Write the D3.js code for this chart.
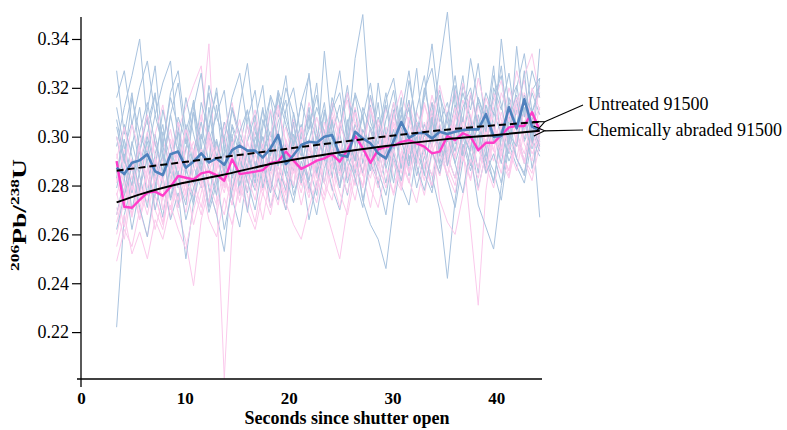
<!DOCTYPE html>
<html>
<head>
<meta charset="utf-8">
<script src="https://cdn.jsdelivr.net/npm/d3@7/dist/d3.min.js"></script>
<style>
  html, body { margin: 0; padding: 0; background: #ffffff; }
  svg { display: block; font-family: "Liberation Serif", "Times New Roman", serif; }
</style>
</head>
<body>
<svg id="chart" width="787" height="430"></svg>
<script>
// Acquisition times (s since shutter open)
const times = [3.43, 4.17, 4.91, 5.65, 6.39, 7.14, 7.88, 8.62, 9.36, 10.10,
  10.84, 11.58, 12.32, 13.06, 13.80, 14.55, 15.29, 16.03, 16.77, 17.51,
  18.25, 18.99, 19.73, 20.47, 21.21, 21.96, 22.70, 23.44, 24.18, 24.92,
  25.66, 26.40, 27.14, 27.88, 28.62, 29.37, 30.11, 30.85, 31.59, 32.33,
  33.07, 33.81, 34.55, 35.29, 36.03, 36.78, 37.52, 38.26, 39.00, 39.74,
  40.48, 41.22, 41.96, 42.70, 43.44, 44.18];

// Mean 206Pb/238U of untreated 91500 analyses
const untreatedMean = [0.2873, 0.2847, 0.2893, 0.2903, 0.2928, 0.2858, 0.2843, 0.2928,
  0.2939, 0.2873, 0.2898, 0.2932, 0.2895, 0.2911, 0.2885, 0.2945, 0.2963, 0.2943,
  0.2943, 0.2915, 0.2952, 0.3007, 0.2888, 0.2925, 0.2966, 0.2979, 0.2975, 0.3000,
  0.3007, 0.2925, 0.2918, 0.3020, 0.2993, 0.2973, 0.2932, 0.2911, 0.2982, 0.3060,
  0.2995, 0.3014, 0.3016, 0.2993, 0.3020, 0.3011, 0.3020, 0.3027, 0.3030, 0.3030,
  0.3092, 0.3000, 0.3003, 0.3120, 0.3034, 0.3153, 0.3041, 0.3025];

// Mean 206Pb/238U of chemically abraded 91500 analyses
const abradedMean = [0.2900, 0.2713, 0.2709, 0.2741, 0.2771, 0.2775, 0.2758, 0.2795,
  0.2839, 0.2832, 0.2825, 0.2850, 0.2857, 0.2843, 0.2820, 0.2907, 0.2847, 0.2852,
  0.2857, 0.2863, 0.2893, 0.2898, 0.2939, 0.2902, 0.2868, 0.2884, 0.2902, 0.2911,
  0.2928, 0.2898, 0.2945, 0.3003, 0.2952, 0.2893, 0.2948, 0.2959, 0.2963, 0.2979,
  0.2986, 0.2973, 0.2959, 0.2932, 0.2939, 0.3003, 0.2986, 0.3014, 0.3000, 0.2945,
  0.2975, 0.2975, 0.3007, 0.3038, 0.3044, 0.3044, 0.3100, 0.3025];

// Fitted trends
const untreatedFitTimes = [3.43, 13.6, 24.2, 34.8, 44.18];
const untreatedFit = [0.2861, 0.2916, 0.2974, 0.3027, 0.3061];
const abradedFitTimes = [3.43, 6.0, 9.2, 13.6, 18.5, 24.0, 29.0, 35.0, 40.0, 44.18];
const abradedFit = [0.2731, 0.2768, 0.2804, 0.2843, 0.2890, 0.2930, 0.2960, 0.2989, 0.3007, 0.3024];

// Individual untreated analyses
const untreatedRuns = [
  [0.222,0.268,0.281,0.296,0.276,0.301,0.284,0.293,0.271,0.305,0.288,0.279,0.312,0.290,0.283,0.301,0.276,0.298,0.309,0.285,0.294,0.318,0.287,0.279,0.303,0.296,0.284,0.311,0.299,0.290,0.307,0.281,0.295,0.313,0.288,0.301,0.292,0.316,0.284,0.305,0.297,0.310,0.289,0.302,0.318,0.293,0.306,0.285,0.311,0.300,0.294,0.316,0.303,0.289,0.308,0.298],
  [0.296,0.312,0.325,0.340,0.305,0.318,0.290,0.309,0.322,0.297,0.315,0.286,0.303,0.320,0.294,0.311,0.299,0.284,0.307,0.321,0.292,0.306,0.315,0.288,0.301,0.326,0.295,0.310,0.283,0.304,0.318,0.297,0.309,0.291,0.322,0.300,0.314,0.287,0.305,0.328,0.296,0.311,0.319,0.293,0.308,0.325,0.299,0.316,0.305,0.329,0.294,0.313,0.321,0.302,0.318,0.309],
  [0.327,0.301,0.318,0.293,0.311,0.329,0.296,0.316,0.304,0.285,0.312,0.326,0.298,0.309,0.319,0.291,0.313,0.330,0.302,0.294,0.317,0.308,0.325,0.297,0.314,0.303,0.322,0.290,0.311,0.318,0.299,0.332,0.350,0.306,0.297,0.315,0.324,0.301,0.312,0.289,0.319,0.328,0.306,0.314,0.297,0.321,0.311,0.330,0.303,0.316,0.325,0.299,0.320,0.334,0.310,0.318],
  [0.268,0.283,0.262,0.279,0.291,0.270,0.284,0.266,0.277,0.250,0.273,0.288,0.269,0.281,0.294,0.275,0.263,0.286,0.278,0.292,0.271,0.283,0.297,0.276,0.288,0.266,0.281,0.293,0.279,0.270,0.287,0.296,0.274,0.289,0.282,0.268,0.291,0.280,0.272,0.294,0.285,0.277,0.298,0.283,0.271,0.290,0.301,0.279,0.293,0.286,0.274,0.297,0.288,0.281,0.299,0.292],
  [0.285,0.299,0.277,0.294,0.308,0.283,0.297,0.275,0.290,0.303,0.281,0.296,0.279,0.268,0.253,0.284,0.298,0.287,0.306,0.279,0.293,0.301,0.284,0.310,0.295,0.282,0.300,0.291,0.307,0.286,0.298,0.311,0.289,0.304,0.295,0.281,0.299,0.312,0.290,0.303,0.294,0.308,0.287,0.299,0.313,0.292,0.305,0.296,0.287,0.310,0.301,0.293,0.315,0.298,0.306,0.267],
  [0.300,0.283,0.296,0.312,0.288,0.275,0.302,0.291,0.279,0.295,0.310,0.285,0.273,0.298,0.286,0.304,0.292,0.277,0.300,0.289,0.311,0.283,0.270,0.296,0.305,0.288,0.276,0.299,0.287,0.302,0.281,0.293,0.274,0.264,0.258,0.246,0.272,0.290,0.301,0.284,0.296,0.279,0.305,0.292,0.283,0.300,0.288,0.309,0.295,0.281,0.303,0.290,0.298,0.312,0.287,0.301],
  [0.312,0.295,0.306,0.288,0.301,0.317,0.293,0.285,0.308,0.298,0.289,0.314,0.302,0.292,0.281,0.305,0.296,0.311,0.287,0.300,0.293,0.316,0.305,0.294,0.283,0.309,0.299,0.314,0.290,0.303,0.321,0.296,0.308,0.289,0.301,0.318,0.295,0.306,0.311,0.297,0.320,0.305,0.329,0.351,0.313,0.299,0.317,0.306,0.292,0.320,0.311,0.326,0.303,0.315,0.298,0.324],
  [0.279,0.293,0.270,0.286,0.298,0.281,0.267,0.290,0.302,0.284,0.272,0.295,0.287,0.276,0.299,0.283,0.291,0.269,0.288,0.300,0.282,0.274,0.293,0.286,0.297,0.278,0.290,0.281,0.302,0.289,0.276,0.295,0.285,0.298,0.280,0.291,0.303,0.287,0.296,0.279,0.292,0.284,0.270,0.242,0.274,0.297,0.286,0.301,0.290,0.282,0.299,0.308,0.291,0.285,0.303,0.294],
  [0.304,0.289,0.316,0.301,0.293,0.309,0.322,0.331,0.297,0.285,0.310,0.299,0.318,0.291,0.306,0.296,0.283,0.307,0.319,0.294,0.302,0.288,0.311,0.320,0.299,0.308,0.292,0.335,0.301,0.313,0.290,0.305,0.296,0.317,0.302,0.293,0.311,0.297,0.323,0.306,0.300,0.314,0.292,0.308,0.325,0.301,0.294,0.316,0.307,0.298,0.340,0.312,0.304,0.327,0.295,0.336],
  [0.290,0.276,0.298,0.284,0.271,0.293,0.305,0.282,0.296,0.288,0.274,0.301,0.290,0.313,0.286,0.299,0.280,0.294,0.283,0.307,0.296,0.288,0.278,0.301,0.292,0.312,0.285,0.297,0.306,0.289,0.300,0.285,0.303,0.294,0.314,0.287,0.298,0.309,0.291,0.300,0.284,0.306,0.295,0.310,0.289,0.301,0.293,0.272,0.263,0.254,0.280,0.298,0.311,0.305,0.319,0.324],
  [0.283,0.305,0.292,0.278,0.300,0.287,0.311,0.296,0.283,0.272,0.294,0.306,0.289,0.299,0.285,0.312,0.301,0.293,0.281,0.304,0.316,0.297,0.289,0.306,0.281,0.298,0.312,0.302,0.292,0.279,0.305,0.317,0.299,0.286,0.308,0.297,0.281,0.303,0.315,0.293,0.305,0.296,0.312,0.288,0.302,0.318,0.307,0.294,0.313,0.301,0.289,0.307,0.317,0.299,0.311,0.303],
  [0.316,0.327,0.305,0.320,0.331,0.309,0.296,0.318,0.327,0.302,0.314,0.295,0.321,0.308,0.299,0.316,0.326,0.304,0.293,0.311,0.300,0.319,0.308,0.296,0.314,0.325,0.302,0.291,0.316,0.305,0.297,0.318,0.308,0.322,0.300,0.313,0.294,0.309,0.327,0.302,0.316,0.338,0.310,0.298,0.321,0.306,0.332,0.314,0.302,0.325,0.313,0.297,0.337,0.308,0.327,0.316],
  [0.262,0.276,0.288,0.271,0.259,0.280,0.293,0.274,0.286,0.266,0.279,0.290,0.271,0.284,0.262,0.278,0.291,0.282,0.270,0.289,0.277,0.296,0.284,0.273,0.290,0.281,0.268,0.287,0.298,0.279,0.292,0.283,0.271,0.295,0.286,0.276,0.293,0.282,0.299,0.288,0.278,0.294,0.285,0.300,0.289,0.277,0.296,0.304,0.285,0.293,0.281,0.302,0.291,0.284,0.305,0.296],
  [0.307,0.291,0.280,0.302,0.314,0.297,0.286,0.309,0.293,0.316,0.301,0.289,0.305,0.318,0.296,0.284,0.302,0.311,0.295,0.312,0.286,0.301,0.320,0.309,0.294,0.303,0.317,0.296,0.311,0.327,0.301,0.290,0.312,0.303,0.290,0.307,0.319,0.298,0.288,0.311,0.325,0.299,0.317,0.306,0.294,0.312,0.320,0.303,0.318,0.309,0.329,0.301,0.296,0.317,0.310,0.321]
];

// Individual chemically abraded analyses
const abradedRuns = [
  [0.271,0.258,0.279,0.266,0.284,0.270,0.262,0.281,0.293,0.276,0.288,0.305,0.338,0.275,0.201,0.262,0.283,0.271,0.290,0.278,0.296,0.284,0.273,0.292,0.281,0.299,0.287,0.276,0.295,0.285,0.301,0.290,0.279,0.297,0.288,0.304,0.293,0.282,0.299,0.290,0.306,0.295,0.284,0.301,0.292,0.308,0.297,0.287,0.303,0.294,0.310,0.299,0.291,0.306,0.298,0.312],
  [0.249,0.262,0.255,0.270,0.259,0.276,0.264,0.281,0.269,0.257,0.239,0.266,0.279,0.268,0.284,0.272,0.288,0.276,0.265,0.283,0.292,0.279,0.270,0.287,0.296,0.281,0.273,0.290,0.278,0.295,0.285,0.274,0.291,0.283,0.298,0.287,0.277,0.294,0.285,0.300,0.289,0.279,0.296,0.288,0.303,0.292,0.282,0.299,0.290,0.305,0.294,0.286,0.301,0.293,0.307,0.297],
  [0.283,0.270,0.289,0.277,0.294,0.282,0.299,0.287,0.303,0.312,0.321,0.329,0.296,0.281,0.293,0.279,0.297,0.286,0.302,0.290,0.279,0.298,0.287,0.305,0.293,0.282,0.301,0.291,0.308,0.296,0.285,0.303,0.294,0.311,0.300,0.289,0.306,0.297,0.314,0.302,0.292,0.309,0.299,0.289,0.305,0.296,0.263,0.231,0.278,0.301,0.293,0.310,0.300,0.316,0.306,0.298],
  [0.276,0.288,0.268,0.281,0.273,0.290,0.279,0.267,0.285,0.296,0.282,0.271,0.289,0.298,0.284,0.275,0.292,0.281,0.297,0.286,0.277,0.294,0.304,0.289,0.280,0.297,0.287,0.306,0.293,0.284,0.300,0.312,0.296,0.287,0.305,0.294,0.310,0.299,0.289,0.306,0.297,0.314,0.302,0.293,0.309,0.300,0.317,0.305,0.296,0.312,0.303,0.320,0.309,0.325,0.334,0.316],
  [0.260,0.274,0.284,0.266,0.278,0.262,0.275,0.287,0.271,0.281,0.264,0.277,0.290,0.276,0.268,0.285,0.273,0.289,0.280,0.266,0.284,0.293,0.277,0.288,0.272,0.286,0.297,0.281,0.274,0.291,0.283,0.296,0.285,0.271,0.289,0.300,0.284,0.278,0.295,0.287,0.276,0.293,0.303,0.288,0.280,0.297,0.289,0.278,0.294,0.304,0.290,0.283,0.298,0.291,0.285,0.302],
  [0.293,0.280,0.267,0.285,0.296,0.279,0.291,0.303,0.286,0.274,0.292,0.281,0.299,0.287,0.306,0.293,0.282,0.300,0.311,0.294,0.285,0.302,0.291,0.280,0.298,0.309,0.292,0.301,0.288,0.305,0.315,0.297,0.286,0.303,0.293,0.312,0.300,0.291,0.308,0.297,0.314,0.302,0.292,0.310,0.319,0.303,0.295,0.313,0.301,0.318,0.307,0.296,0.314,0.323,0.305,0.312],
  [0.255,0.268,0.252,0.261,0.250,0.266,0.258,0.272,0.262,0.254,0.270,0.281,0.266,0.259,0.275,0.264,0.280,0.270,0.262,0.277,0.268,0.285,0.273,0.264,0.258,0.271,0.282,0.274,0.288,0.277,0.268,0.284,0.293,0.279,0.271,0.287,0.276,0.291,0.282,0.273,0.289,0.280,0.295,0.285,0.277,0.292,0.283,0.298,0.288,0.279,0.294,0.286,0.301,0.290,0.282,0.297],
  [0.281,0.295,0.278,0.290,0.302,0.285,0.274,0.293,0.306,0.289,0.298,0.284,0.272,0.291,0.280,0.296,0.307,0.290,0.279,0.297,0.286,0.311,0.298,0.287,0.303,0.292,0.283,0.300,0.314,0.299,0.289,0.306,0.297,0.316,0.302,0.292,0.309,0.295,0.286,0.304,0.296,0.311,0.301,0.290,0.307,0.322,0.308,0.298,0.316,0.306,0.295,0.312,0.303,0.318,0.309,0.300],
  [0.268,0.279,0.291,0.274,0.286,0.298,0.281,0.270,0.289,0.277,0.294,0.283,0.273,0.290,0.301,0.285,0.276,0.294,0.284,0.296,0.281,0.272,0.290,0.300,0.286,0.296,0.278,0.293,0.283,0.271,0.289,0.280,0.297,0.288,0.279,0.293,0.305,0.290,0.281,0.298,0.287,0.302,0.293,0.284,0.299,0.290,0.307,0.296,0.285,0.301,0.292,0.308,0.298,0.289,0.304,0.295],
  [0.300,0.287,0.305,0.294,0.283,0.301,0.313,0.296,0.288,0.304,0.292,0.309,0.298,0.286,0.303,0.314,0.299,0.290,0.306,0.295,0.311,0.301,0.289,0.307,0.297,0.314,0.303,0.292,0.310,0.300,0.318,0.306,0.295,0.312,0.302,0.291,0.308,0.319,0.305,0.296,0.313,0.303,0.321,0.308,0.298,0.315,0.305,0.324,0.311,0.300,0.318,0.309,0.327,0.314,0.304,0.320],
  [0.265,0.277,0.289,0.279,0.268,0.284,0.275,0.291,0.280,0.269,0.286,0.295,0.281,0.272,0.288,0.278,0.293,0.284,0.274,0.291,0.299,0.285,0.276,0.294,0.288,0.277,0.292,0.303,0.290,0.281,0.297,0.287,0.300,0.291,0.282,0.298,0.289,0.279,0.296,0.306,0.293,0.284,0.301,0.292,0.283,0.299,0.309,0.295,0.286,0.303,0.294,0.284,0.301,0.310,0.296,0.305],
  [0.287,0.272,0.284,0.296,0.279,0.291,0.270,0.283,0.295,0.281,0.276,0.290,0.302,0.286,0.277,0.293,0.282,0.298,0.287,0.276,0.292,0.283,0.299,0.288,0.277,0.293,0.284,0.272,0.261,0.250,0.271,0.289,0.280,0.295,0.286,0.301,0.290,0.280,0.297,0.288,0.303,0.293,0.284,0.300,0.291,0.307,0.296,0.287,0.304,0.295,0.285,0.301,0.312,0.297,0.290,0.306],
  [0.277,0.263,0.281,0.270,0.287,0.276,0.265,0.283,0.274,0.290,0.279,0.268,0.285,0.296,0.283,0.272,0.289,0.278,0.293,0.283,0.271,0.288,0.280,0.296,0.285,0.275,0.291,0.281,0.297,0.287,0.277,0.294,0.284,0.299,0.289,0.279,0.295,0.285,0.302,0.292,0.282,0.298,0.274,0.265,0.260,0.276,0.291,0.283,0.299,0.290,0.306,0.295,0.286,0.303,0.293,0.300],
  [0.291,0.304,0.286,0.297,0.309,0.292,0.281,0.299,0.287,0.303,0.294,0.283,0.301,0.291,0.279,0.298,0.289,0.305,0.293,0.284,0.301,0.313,0.297,0.285,0.304,0.294,0.308,0.297,0.287,0.306,0.295,0.310,0.300,0.290,0.307,0.297,0.314,0.302,0.293,0.310,0.301,0.317,0.305,0.295,0.312,0.302,0.318,0.307,0.297,0.314,0.323,0.306,0.316,0.304,0.320,0.311]
];

const xTicks = [0, 10, 20, 30, 40];
const yTicks = [0.22, 0.24, 0.26, 0.28, 0.30, 0.32, 0.34];
const labels = { untreated: "Untreated 91500", abraded: "Chemically abraded 91500" };

const serif = "'Liberation Serif', 'Times New Roman', serif";
const svg = d3.select("#chart");

const x = d3.scaleLinear().domain([0, 44.4]).range([81, 542]);
const y = d3.scaleLinear().domain([0.2008, 0.349]).range([379, 17]);

const colors = {
  untreatedThin: "#a9c3df",
  abradedThin: "#fbc9ec",
  untreatedMean: "#4f81bd",
  abradedMean: "#ff3dc9"
};

const line = d3.line()
  .x((d, i) => x(times[i]))
  .y(d => y(d));

// individual runs, interleaved so neither colour sits wholly on top
const runs = [];
const nRuns = Math.max(untreatedRuns.length, abradedRuns.length);
for (let i = 0; i < nRuns; i++) {
  if (abradedRuns[i]) runs.push({ v: abradedRuns[i], c: colors.abradedThin });
  if (untreatedRuns[i]) runs.push({ v: untreatedRuns[i], c: colors.untreatedThin });
}
svg.append("g").selectAll("path").data(runs).join("path")
  .attr("d", d => line(d.v))
  .attr("fill", "none")
  .attr("stroke", d => d.c)
  .attr("stroke-width", 1)
  .attr("stroke-linejoin", "round");

// mean curves
svg.append("path").attr("d", line(abradedMean))
  .attr("fill", "none").attr("stroke", colors.abradedMean)
  .attr("stroke-width", 2.4).attr("stroke-linejoin", "round");
svg.append("path").attr("d", line(untreatedMean))
  .attr("fill", "none").attr("stroke", colors.untreatedMean)
  .attr("stroke-width", 2.6).attr("stroke-linejoin", "round");

// fitted trends
const fitLine = (ts) => d3.line().curve(d3.curveMonotoneX)
  .x((d, i) => x(ts[i])).y(d => y(d));
svg.append("path").attr("d", fitLine(untreatedFitTimes)(untreatedFit))
  .attr("fill", "none").attr("stroke", "#000").attr("stroke-width", 2)
  .attr("stroke-dasharray", "7,4");
svg.append("path").attr("d", fitLine(abradedFitTimes)(abradedFit))
  .attr("fill", "none").attr("stroke", "#000").attr("stroke-width", 2);

// axes
const yAxis = svg.append("g").attr("transform", `translate(${x(0)},0)`)
  .call(d3.axisLeft(y).tickValues(yTicks).tickFormat(d3.format(".2f")).tickSize(9).tickPadding(3))
  .attr("font-family", serif).attr("font-size", 18);
yAxis.select(".domain").remove();
yAxis.selectAll(".tick line").attr("stroke", "#000").attr("stroke-width", 1.2);
yAxis.selectAll(".tick text").attr("fill", "#000");

const xAxis = svg.append("g").attr("transform", `translate(0,${y(0.2008)})`)
  .call(d3.axisBottom(x).tickValues(xTicks).tickFormat(d3.format("d")).tickSize(0))
  .attr("font-family", serif).attr("font-size", 17).attr("font-weight", "bold");
xAxis.select(".domain").remove();
xAxis.selectAll(".tick text").attr("y", 25).attr("dy", 0).attr("fill", "#000");

// axis lines, crossing slightly at the origin
svg.append("line").attr("x1", x(0)).attr("x2", x(0)).attr("y1", y(0.349)).attr("y2", y(0.2008) + 8)
  .attr("stroke", "#000").attr("stroke-width", 1.3);
svg.append("line").attr("x1", x(0) - 4).attr("x2", x(44.4)).attr("y1", y(0.2008)).attr("y2", y(0.2008))
  .attr("stroke", "#000").attr("stroke-width", 1.3);

// axis titles
svg.append("text").attr("x", 347).attr("y", 424).attr("text-anchor", "middle")
  .attr("font-family", serif).attr("font-size", 18).attr("font-weight", "bold")
  .text("Seconds since shutter open");

const yTitle = svg.append("text")
  .attr("transform", "translate(26,215) rotate(-90) scale(1.45,1)")
  .attr("text-anchor", "middle").attr("font-family", serif)
  .attr("font-weight", "bold").attr("font-size", 19);
yTitle.append("tspan").attr("font-size", 12).attr("dy", -7).text("206");
yTitle.append("tspan").attr("dy", 7).text("Pb/");
yTitle.append("tspan").attr("font-size", 12).attr("dy", -7).text("238");
yTitle.append("tspan").attr("dy", 7).text("U");

// annotations with open arrowheads
svg.append("defs").append("marker")
  .attr("id", "openArrow").attr("viewBox", "-1 -6 13 12")
  .attr("refX", 0).attr("refY", 0).attr("markerWidth", 13).attr("markerHeight", 12)
  .attr("markerUnits", "userSpaceOnUse").attr("orient", "auto-start-reverse")
  .append("path").attr("d", "M11,-5 L0,0 L11,5").attr("fill", "none")
  .attr("stroke", "#000").attr("stroke-width", 1.1);

const tipX = x(times[times.length - 1]) + 5;
const textX = 588;
const notes = [
  { text: labels.untreated, ty: 110, from: [583, 105], to: [tipX, y(untreatedFit[untreatedFit.length - 1])] },
  { text: labels.abraded, ty: 136, from: [583, 130], to: [tipX, y(abradedFit[abradedFit.length - 1])] }
];
notes.forEach(n => {
  svg.append("line").attr("x1", n.from[0]).attr("y1", n.from[1])
    .attr("x2", n.to[0]).attr("y2", n.to[1])
    .attr("stroke", "#000").attr("stroke-width", 1.1)
    .attr("marker-end", "url(#openArrow)");
  svg.append("text").attr("x", textX).attr("y", n.ty)
    .attr("font-family", serif).attr("font-size", 18).text(n.text);
});
</script>
</body>
</html>
